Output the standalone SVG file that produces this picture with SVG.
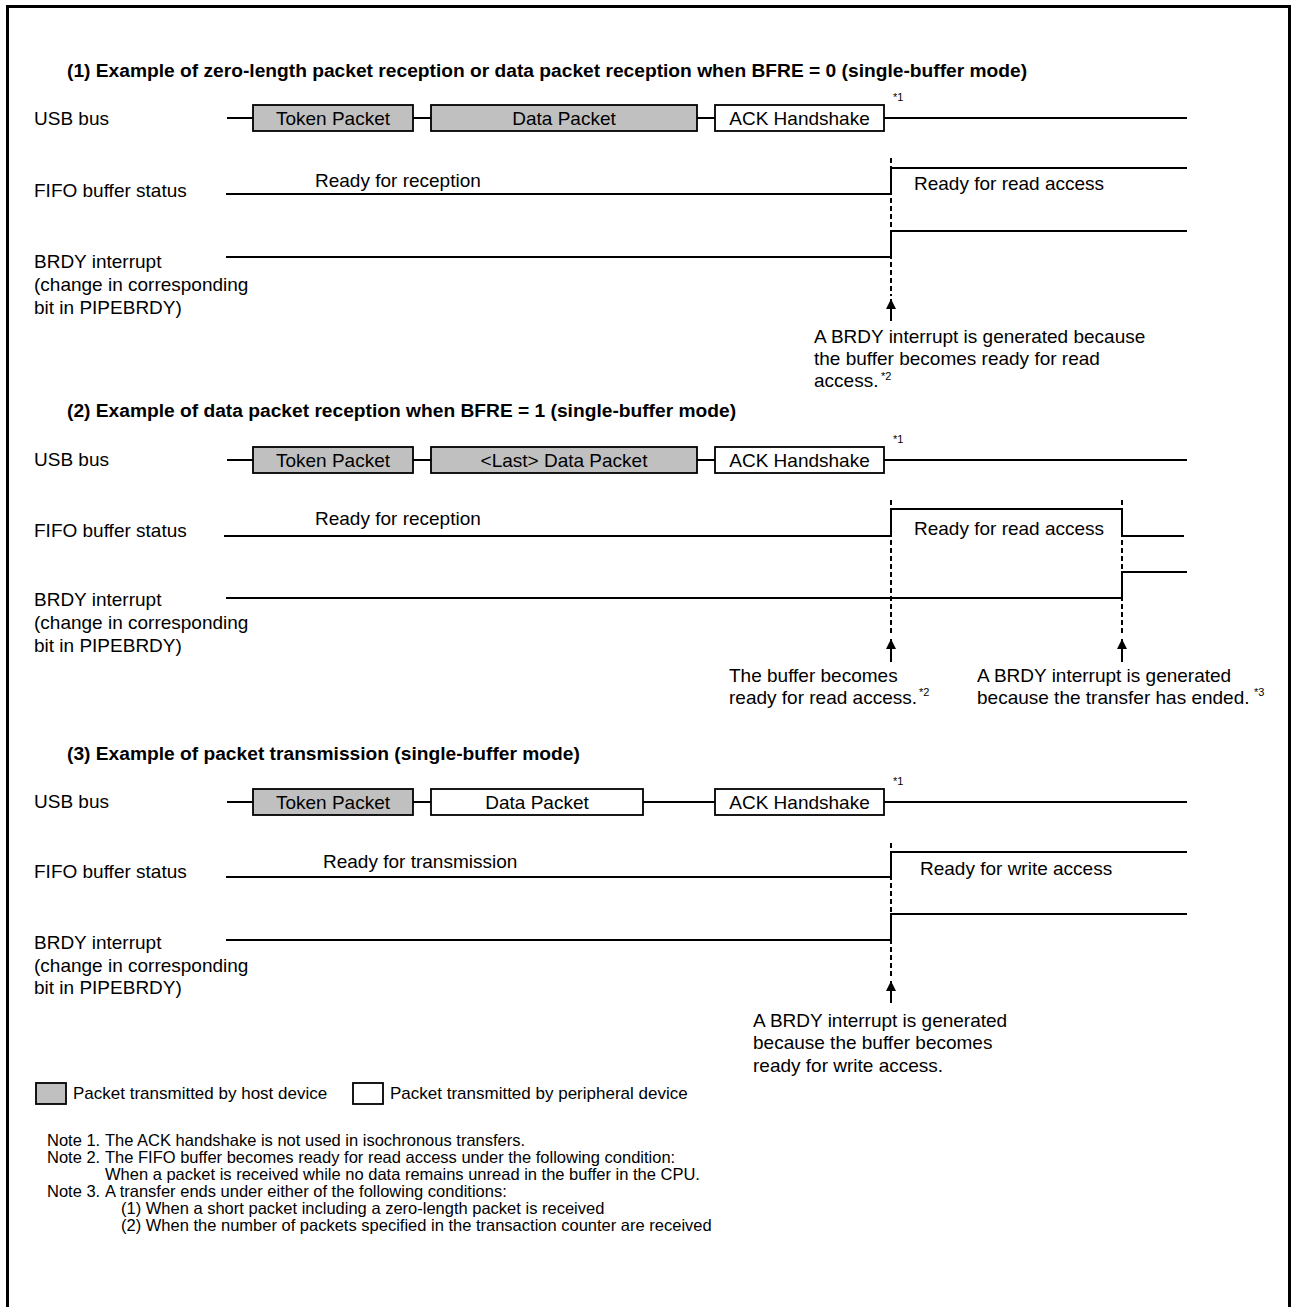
<svg xmlns="http://www.w3.org/2000/svg" width="1291" height="1307" viewBox="0 0 1291 1307">
<style>
.t{font-family:"Liberation Sans",Arial,Helvetica,sans-serif;font-size:19px;fill:#000}
.b{font-weight:bold;font-size:19.2px}
.sup{font-size:11px}
.n{font-size:16.5px}
.lg{font-size:17px}
.c{text-anchor:middle}
.wave{fill:none;stroke:#000;stroke-width:2}
.host{fill:#c0c0c0;stroke:#000;stroke-width:1.8}
.per{fill:#fff;stroke:#000;stroke-width:1.8}
.dash{fill:none;stroke:#000;stroke-width:2;stroke-dasharray:5 3}
.arr{fill:none;stroke:#000;stroke-width:2;marker-end:url(#ah)}
.frame{fill:none;stroke:#000;stroke-width:3}
</style>
<defs>
<marker id="ah" viewBox="0 0 10 10" refX="10" refY="5" markerWidth="12" markerHeight="10" markerUnits="userSpaceOnUse" orient="auto">
<path d="M0,0 L10,5 L0,10 z" fill="#000"/>
</marker>
</defs>
<rect width="1291" height="1307" fill="#fff"/>
<path class="frame" d="M7.5,1307 V6.5 H1289.5 V1307"/>

<!-- Section 1 -->
<g id="sec1">
<text class="t b" x="67" y="77">(1) Example of zero-length packet reception or data packet reception when BFRE = 0 (single-buffer mode)</text>
<g id="s1-labels">
<text class="t" x="34" y="125">USB bus</text>
<text class="t" x="34" y="197">FIFO buffer status</text>
<text class="t" x="34" y="268">BRDY interrupt</text>
<text class="t" x="34" y="291">(change in corresponding</text>
<text class="t" x="34" y="314">bit in PIPEBRDY)</text>
</g>
<g id="s1-token"><rect class="host" x="253" y="105" width="160" height="26"/><text class="t c" x="333" y="125">Token Packet</text></g>
<g id="s1-data"><rect class="host" x="431" y="105" width="266" height="26"/><text class="t c" x="564" y="125">Data Packet</text></g>
<g id="s1-ack"><rect class="per" x="715" y="105" width="169" height="26"/><text class="t c" x="799.5" y="125">ACK Handshake</text></g>
<text class="t sup" x="893" y="101">*1</text>
<text class="t" x="315" y="187">Ready for reception</text>
<text class="t" x="914" y="190">Ready for read access</text>
<g id="s1-note">
<text class="t" x="814" y="343">A BRDY interrupt is generated because</text>
<text class="t" x="814" y="365">the buffer becomes ready for read</text>
<text class="t" x="814" y="387">access.</text>
<text class="t sup" x="881" y="380">*2</text>
</g>
</g>

<!-- Section 2 -->
<g id="sec2">
<text class="t b" x="67" y="417">(2) Example of data packet reception when BFRE = 1 (single-buffer mode)</text>
<g id="s2-labels">
<text class="t" x="34" y="466">USB bus</text>
<text class="t" x="34" y="537">FIFO buffer status</text>
<text class="t" x="34" y="606">BRDY interrupt</text>
<text class="t" x="34" y="629">(change in corresponding</text>
<text class="t" x="34" y="652">bit in PIPEBRDY)</text>
</g>
<g id="s2-token"><rect class="host" x="253" y="447" width="160" height="26"/><text class="t c" x="333" y="467">Token Packet</text></g>
<g id="s2-data"><rect class="host" x="431" y="447" width="266" height="26"/><text class="t c" x="564" y="467">&lt;Last&gt; Data Packet</text></g>
<g id="s2-ack"><rect class="per" x="715" y="447" width="169" height="26"/><text class="t c" x="799.5" y="467">ACK Handshake</text></g>
<text class="t sup" x="893" y="443">*1</text>
<text class="t" x="315" y="525">Ready for reception</text>
<text class="t" x="914" y="535">Ready for read access</text>
<g id="s2-note1">
<text class="t" x="729" y="682">The buffer becomes</text>
<text class="t" x="729" y="704">ready for read access.</text>
<text class="t sup" x="919" y="696">*2</text>
</g>
<g id="s2-note2">
<text class="t" x="977" y="682">A BRDY interrupt is generated</text>
<text class="t" x="977" y="704">because the transfer has ended.</text>
<text class="t sup" x="1254" y="696">*3</text>
</g>
</g>

<!-- Section 3 -->
<g id="sec3">
<text class="t b" x="67" y="760">(3) Example of packet transmission (single-buffer mode)</text>
<g id="s3-labels">
<text class="t" x="34" y="808">USB bus</text>
<text class="t" x="34" y="878">FIFO buffer status</text>
<text class="t" x="34" y="949">BRDY interrupt</text>
<text class="t" x="34" y="972">(change in corresponding</text>
<text class="t" x="34" y="994">bit in PIPEBRDY)</text>
</g>
<g id="s3-token"><rect class="host" x="253" y="789" width="160" height="26"/><text class="t c" x="333" y="809">Token Packet</text></g>
<g id="s3-data"><rect class="per" x="431" y="789" width="212" height="26"/><text class="t c" x="537" y="809">Data Packet</text></g>
<g id="s3-ack"><rect class="per" x="715" y="789" width="169" height="26"/><text class="t c" x="799.5" y="809">ACK Handshake</text></g>
<text class="t sup" x="893" y="785">*1</text>
<text class="t" x="323" y="868">Ready for transmission</text>
<text class="t" x="920" y="875">Ready for write access</text>
<g id="s3-note">
<text class="t" x="753" y="1027">A BRDY interrupt is generated</text>
<text class="t" x="753" y="1049">because the buffer becomes</text>
<text class="t" x="753" y="1072">ready for write access.</text>
</g>
</g>

<!-- Connectors / waveforms -->
<g id="connectors">
<!-- section 1 -->
<path class="wave" d="M227,118 H253 M413,118 H431 M697,118 H715 M884,118 H1187"/>
<path class="wave" d="M226,194 H891 V168 H1187"/>
<path class="wave" d="M226,257 H891 V231 H1187"/>
<path class="dash" d="M891,158 V296"/>
<path class="arr" d="M891,321 V299"/>
<!-- section 2 -->
<path class="wave" d="M227,460 H253 M413,460 H431 M697,460 H715 M884,460 H1187"/>
<path class="wave" d="M224,536 H891 V509 H1122 V536 H1184"/>
<path class="wave" d="M226,598 H1122 V572 H1187"/>
<path class="dash" d="M891,500 V634"/>
<path class="dash" d="M1122,500 V634"/>
<path class="arr" d="M891,662 V639"/>
<path class="arr" d="M1122,662 V639"/>
<!-- section 3 -->
<path class="wave" d="M227,802 H253 M413,802 H431 M643,802 H715 M884,802 H1187"/>
<path class="wave" d="M226,877 H891 V852 H1187"/>
<path class="wave" d="M226,940 H891 V914 H1187"/>
<path class="dash" d="M891,843 V978"/>
<path class="arr" d="M891,1003 V981"/>
</g>

<!-- Legend -->
<g id="legend-host"><rect class="host" x="36" y="1083" width="30" height="21"/><text class="t lg" x="73" y="1099">Packet transmitted by host device</text></g>
<g id="legend-peripheral"><rect class="per" x="353" y="1083" width="30" height="21"/><text class="t lg" x="390" y="1099">Packet transmitted by peripheral device</text></g>

<!-- Notes -->
<g id="notes">
<text class="t n" x="47" y="1146">Note 1.</text>
<text class="t n" x="105" y="1146">The ACK handshake is not used in isochronous transfers.</text>
<text class="t n" x="47" y="1163">Note 2.</text>
<text class="t n" x="105" y="1163">The FIFO buffer becomes ready for read access under the following condition:</text>
<text class="t n" x="105" y="1180">When a packet is received while no data remains unread in the buffer in the CPU.</text>
<text class="t n" x="47" y="1197">Note 3.</text>
<text class="t n" x="105" y="1197">A transfer ends under either of the following conditions:</text>
<text class="t n" x="121" y="1214">(1) When a short packet including a zero-length packet is received</text>
<text class="t n" x="121" y="1231">(2) When the number of packets specified in the transaction counter are received</text>
</g>
</svg>
